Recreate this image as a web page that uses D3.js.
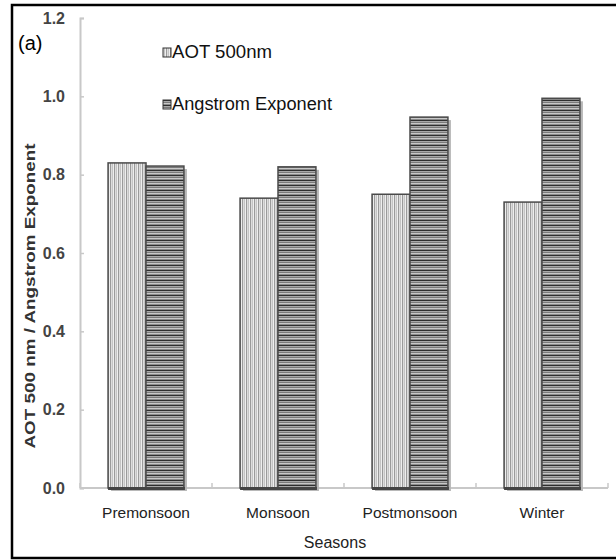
<!DOCTYPE html>
<html>
<head>
<meta charset="utf-8">
<script src="https://cdn.jsdelivr.net/npm/d3@7"></script>
<style>
  html, body { margin: 0; padding: 0; background: #fff; }
  svg { display: block; }
  text { font-family: "Liberation Sans", Arial, sans-serif; }
</style>
</head>
<body>
<svg id="chart" width="616" height="560"></svg>
<script>
// Seasonal means of aerosol optical thickness and Angstrom exponent
const seasons = ["Premonsoon", "Monsoon", "Postmonsoon", "Winter"];
const seriesNames = ["AOT 500nm", "Angstrom Exponent"];
const aotValues = [0.83, 0.74, 0.75, 0.73];
const angstromValues = [0.822, 0.82, 0.947, 0.995];
const yTicks = [0.0, 0.2, 0.4, 0.6, 0.8, 1.0, 1.2];

const svg = d3.select("#chart");
const defs = svg.append("defs");

// vertical hatching for AOT bars
const pV = defs.append("pattern").attr("id", "pat-aot")
  .attr("patternUnits", "userSpaceOnUse").attr("width", 4).attr("height", 4);
[["#c4c4c4", 0], ["#eeeeee", 1], ["#9a9a9a", 2], ["#dcdcdc", 3]].forEach(([c, i]) =>
  pV.append("rect").attr("x", i).attr("y", 0).attr("width", 1).attr("height", 4).attr("fill", c));

// horizontal hatching for Angstrom bars
const pH = defs.append("pattern").attr("id", "pat-ang")
  .attr("patternUnits", "userSpaceOnUse").attr("width", 4).attr("height", 5);
[["#2e2e2e", 0], ["#a8a8a8", 1], ["#7a7a7a", 2], ["#c8c8c8", 3], ["#8a8a8a", 4]].forEach(([c, i]) =>
  pH.append("rect").attr("x", 0).attr("y", i).attr("width", 4).attr("height", 1).attr("fill", c));

const fills = { "AOT 500nm": "url(#pat-aot)", "Angstrom Exponent": "url(#pat-ang)" };

// outer frame
svg.append("rect").attr("x", 12).attr("y", 5).attr("width", 640).attr("height", 553)
  .attr("fill", "none").attr("stroke", "#000").attr("stroke-width", 2.5);

const x0 = d3.scaleBand().domain(seasons).range([80, 608]).padding(0);
const x1 = d3.scaleBand().domain(seriesNames).range([0, x0.bandwidth()])
  .paddingInner(0).paddingOuter(0.74);
const y = d3.scaleLinear().domain([0, 1.2]).range([488, 18]);

// y axis
const yAxis = svg.append("g").attr("transform", "translate(80,0)")
  .call(d3.axisRight(y).tickValues(yTicks).tickSize(4).tickFormat(d3.format(".1f")));
yAxis.select(".domain").attr("stroke", "#c8c8c8").attr("stroke-width", 2);
yAxis.selectAll(".tick line").attr("stroke", "#c8c8c8").attr("stroke-width", 1.5);
yAxis.selectAll(".tick text").attr("x", -15).attr("text-anchor", "end")
  .attr("font-size", 16).attr("fill", "#444").attr("font-weight", "bold")
  .attr("font-family", "Liberation Sans, Arial, sans-serif");

// x axis baseline and boundary ticks
svg.append("line").attr("x1", 80).attr("x2", 608).attr("y1", y(0)).attr("y2", y(0))
  .attr("stroke", "#c8c8c8").attr("stroke-width", 2);
const bounds = seasons.map(s => x0(s) + x0.bandwidth()).concat([x0(seasons[0])]);
svg.selectAll(".xtick").data(bounds).join("line").attr("class", "xtick")
  .attr("x1", d => d).attr("x2", d => d).attr("y1", y(0)).attr("y2", y(0) - 5)
  .attr("stroke", "#c8c8c8").attr("stroke-width", 1.5);

// bars
const rows = seasons.map((s, i) => ({ season: s, vals: [
  { name: seriesNames[0], v: aotValues[i] },
  { name: seriesNames[1], v: angstromValues[i] }] }));

const groups = svg.selectAll(".grp").data(rows).join("g").attr("class", "grp")
  .attr("transform", d => `translate(${x0(d.season)},0)`);

// soft shadow behind each bar
groups.selectAll(".shadow").data(d => d.vals).join("rect").attr("class", "shadow")
  .attr("x", d => x1(d.name) + 3).attr("y", d => y(d.v) + 3)
  .attr("width", x1.bandwidth()).attr("height", d => y(0) - y(d.v))
  .attr("fill", "#b8b8b8");

groups.selectAll(".bar").data(d => d.vals).join("rect").attr("class", "bar")
  .attr("x", d => x1(d.name)).attr("y", d => y(d.v))
  .attr("width", x1.bandwidth()).attr("height", d => y(0) - y(d.v))
  .attr("fill", d => fills[d.name]).attr("stroke", "#4a4a4a").attr("stroke-width", 1.5);

// dark base under each bar
groups.selectAll(".base").data(d => d.vals).join("rect").attr("class", "base")
  .attr("x", d => x1(d.name)).attr("y", y(0) - 1)
  .attr("width", x1.bandwidth() + 1).attr("height", 3).attr("fill", "#444");

// category labels
svg.selectAll(".xlab").data(seasons).join("text").attr("class", "xlab")
  .attr("x", d => x0(d) + x0.bandwidth() / 2).attr("y", 518)
  .attr("text-anchor", "middle").attr("font-size", 15.5).attr("fill", "#222")
  .text(d => d);

// axis titles
svg.append("text").attr("x", 335).attr("y", 548).attr("text-anchor", "middle")
  .attr("font-size", 16).attr("fill", "#222").text("Seasons");
svg.append("text")
  .attr("transform", "translate(35,296) rotate(-90)")
  .attr("text-anchor", "middle").attr("font-size", 15).attr("font-weight", "bold")
  .attr("fill", "#333").attr("textLength", 305).attr("lengthAdjust", "spacingAndGlyphs")
  .text("AOT 500 nm / Angstrom Exponent");

// panel tag
svg.append("text").attr("x", 18).attr("y", 50)
  .attr("font-family", "Liberation Serif, Times New Roman, serif")
  .attr("font-size", 20).attr("fill", "#000").text("(a)");

// legend
const legend = svg.append("g");
seriesNames.forEach((name, i) => {
  const ly = [58, 110][i];
  legend.append("rect").attr("x", 163).attr("y", ly - 10).attr("width", 8).attr("height", 9)
    .attr("fill", fills[name]).attr("stroke", "#333").attr("stroke-width", 1);
  legend.append("text").attr("x", 172).attr("y", ly).attr("font-size", 18).attr("fill", "#111")
    .attr("textLength", [100, 160][i]).attr("lengthAdjust", "spacingAndGlyphs")
    .text(name);
});
</script>
</body>
</html>
